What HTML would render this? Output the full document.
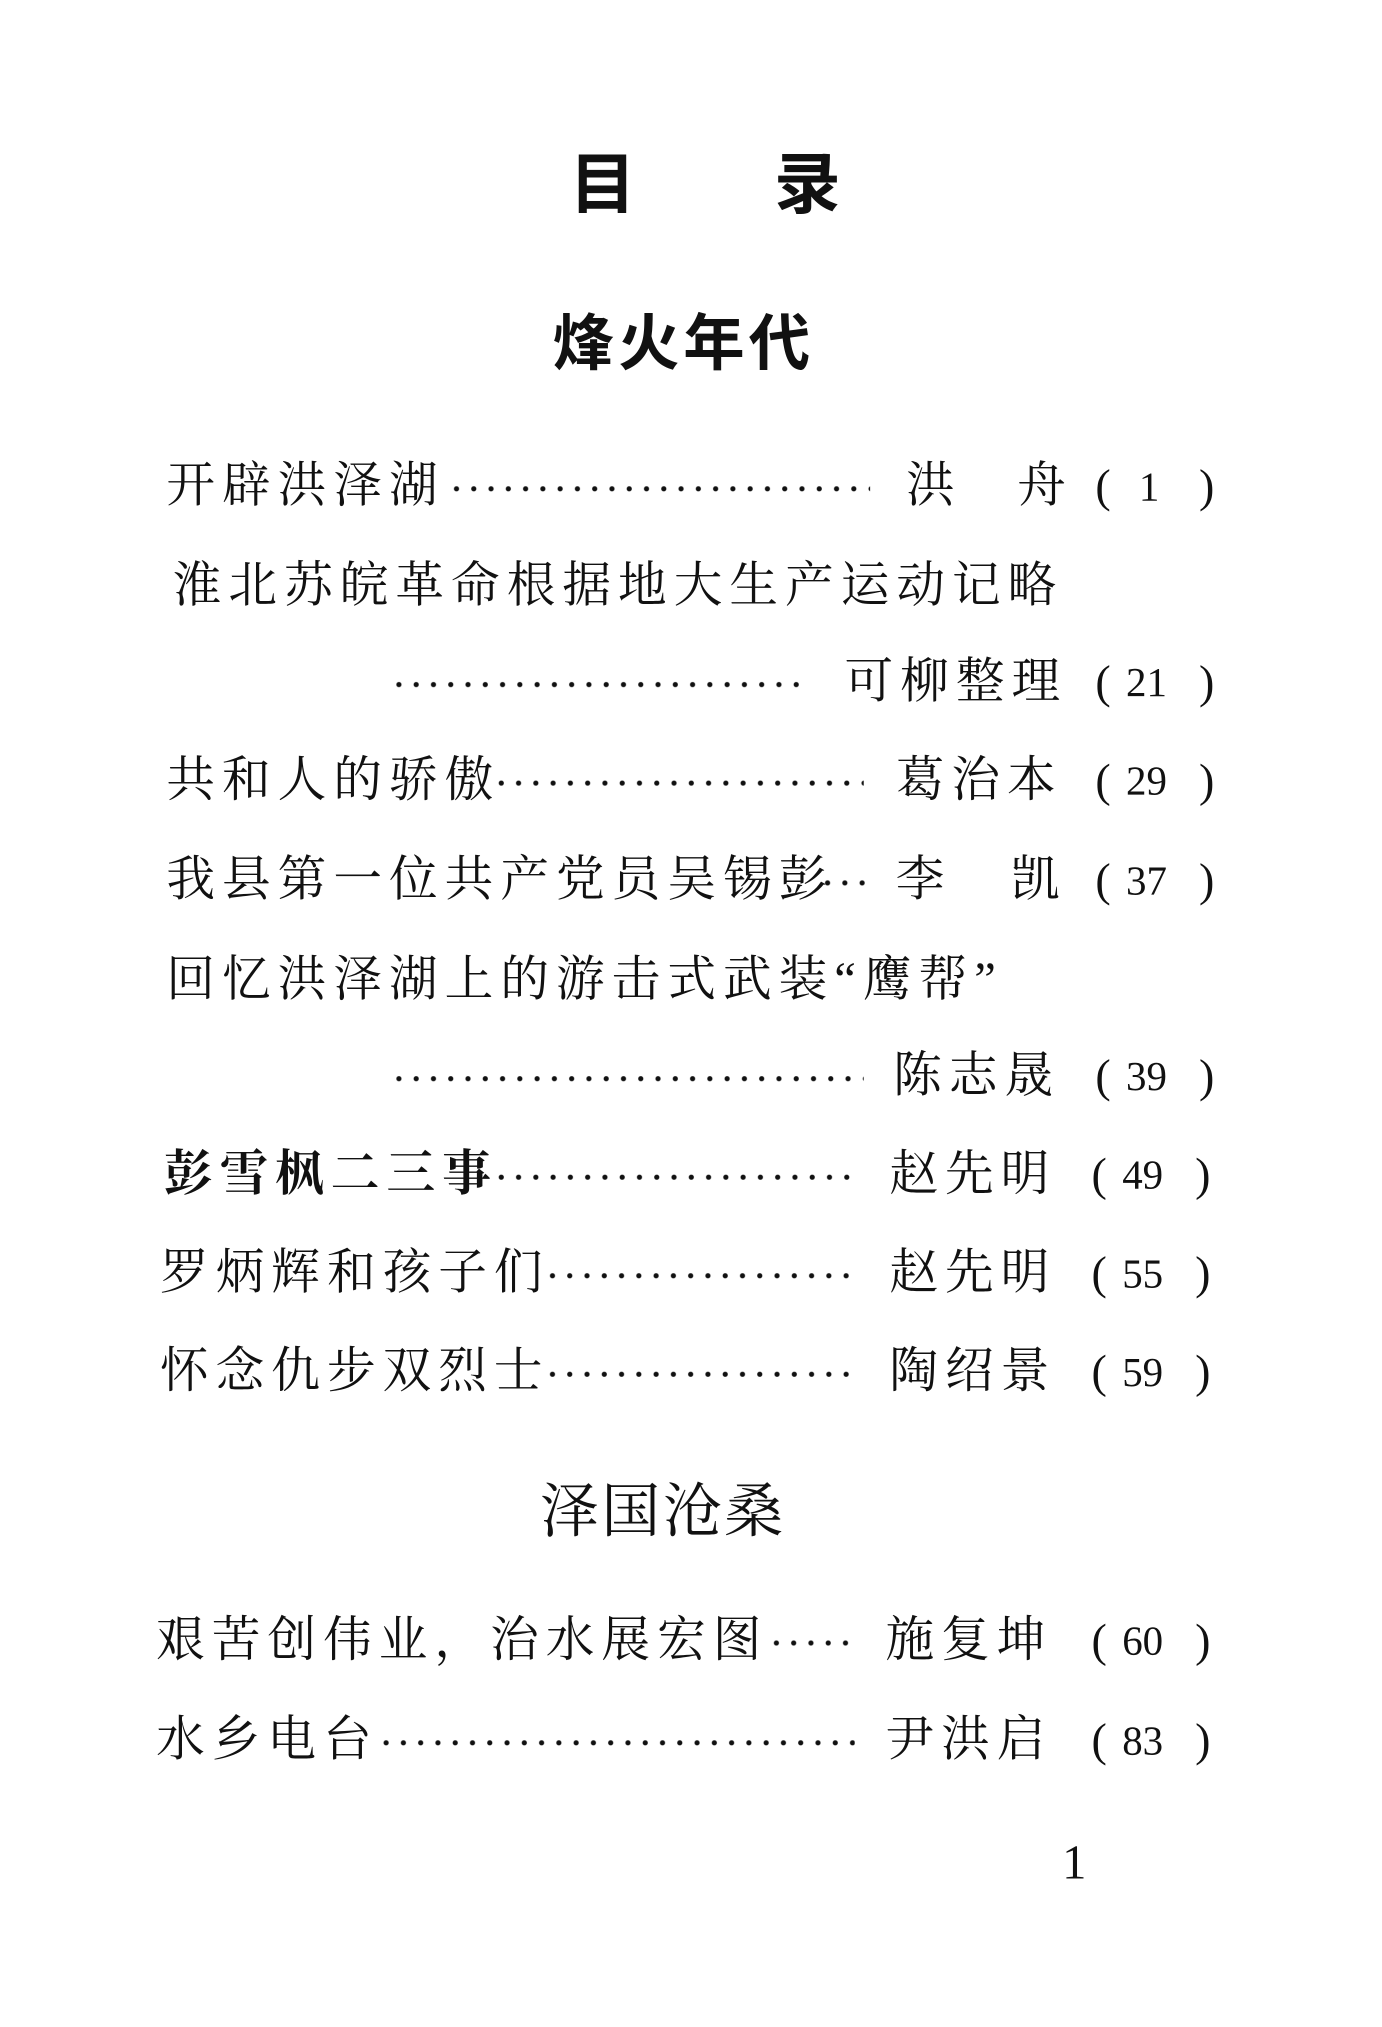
<!DOCTYPE html>
<html><head><meta charset="utf-8"><style>
html,body{margin:0;padding:0;background:#fff;}
body{width:1382px;height:2027px;overflow:hidden;position:relative;}
#w{position:absolute;left:0;top:0;width:1080px;height:1584px;transform:scale(1.2796);transform-origin:0 0;font-family:"Liberation Serif","Noto Serif CJK SC",serif;color:#111;}
.a{position:absolute;white-space:nowrap;line-height:1;}
.t{font-size:38px;letter-spacing:5.5px;}
.d{position:absolute;height:8px;background:radial-gradient(circle,#111 1.7px,transparent 2.3px) 0 0/13.5px 8px repeat-x;}
.n{font-family:"Liberation Serif",serif;font-size:32px;}
.p{font-size:36px;font-family:"Liberation Serif","Noto Serif CJK SC",serif;}
</style></head><body><div id="w">
<div class="a" style="left:445px;top:114px;font-size:52px;font-weight:bold;font-family:'Noto Sans CJK SC',sans-serif">目</div>
<div class="a" style="left:605px;top:114px;font-size:52px;font-weight:bold;font-family:'Noto Sans CJK SC',sans-serif">录</div>
<div class="a" style="left:432px;top:240px;font-size:48px;letter-spacing:3px;font-weight:bold;font-family:'Noto Sans CJK SC',sans-serif">烽火年代</div>
<div class="a" style="left:422px;top:1159px;font-size:46px;letter-spacing:2px">泽国沧桑</div>

<div class="a t" style="left:130px;top:361px">开辟洪泽湖</div><div class="d" style="left:350px;top:378px;width:330px"></div>
<div class="a t" style="left:708px;top:361px">洪</div><div class="a t" style="left:795px;top:361px">舟</div>
<div class="a p" style="left:856px;top:362px">(</div><div class="a n" style="left:890px;top:364px">1</div><div class="a p" style="left:937px;top:362px">)</div>

<div class="a t" style="left:135px;top:439px">淮北苏皖革命根据地大生产运动记略</div>

<div class="d" style="left:305px;top:531px;width:320px"></div>
<div class="a t" style="left:660px;top:514px">可柳整理</div>
<div class="a p" style="left:856px;top:515px">(</div><div class="a n" style="left:880px;top:517px">21</div><div class="a p" style="left:937px;top:515px">)</div>

<div class="a t" style="left:130px;top:591px">共和人的骄傲</div><div class="d" style="left:385px;top:608px;width:290px"></div>
<div class="a t" style="left:700px;top:591px">葛治本</div>
<div class="a p" style="left:856px;top:592px">(</div><div class="a n" style="left:880px;top:594px">29</div><div class="a p" style="left:937px;top:592px">)</div>

<div class="a t" style="left:130px;top:669px">我县第一位共产党员吴锡彭</div><div class="d" style="left:640px;top:686px;width:36px"></div>
<div class="a t" style="left:700px;top:669px">李</div><div class="a t" style="left:790px;top:669px">凯</div>
<div class="a p" style="left:856px;top:670px">(</div><div class="a n" style="left:880px;top:672px">37</div><div class="a p" style="left:937px;top:670px">)</div>

<div class="a t" style="left:130px;top:747px">回忆洪泽湖上的游击式武装“鹰帮”</div>

<div class="d" style="left:305px;top:839px;width:370px"></div>
<div class="a t" style="left:698px;top:822px">陈志晟</div>
<div class="a p" style="left:856px;top:823px">(</div><div class="a n" style="left:880px;top:825px">39</div><div class="a p" style="left:937px;top:823px">)</div>

<div class="a t" style="left:128px;top:899px;font-weight:bold">彭雪枫二三事</div><div class="d" style="left:385px;top:916px;width:285px"></div>
<div class="a t" style="left:695px;top:899px">赵先明</div>
<div class="a p" style="left:853px;top:900px">(</div><div class="a n" style="left:877px;top:902px">49</div><div class="a p" style="left:934px;top:900px">)</div>

<div class="a t" style="left:125px;top:976px">罗炳辉和孩子们</div><div class="d" style="left:425px;top:993px;width:245px"></div>
<div class="a t" style="left:695px;top:976px">赵先明</div>
<div class="a p" style="left:853px;top:977px">(</div><div class="a n" style="left:877px;top:979px">55</div><div class="a p" style="left:934px;top:977px">)</div>

<div class="a t" style="left:125px;top:1053px">怀念仇步双烈士</div><div class="d" style="left:425px;top:1070px;width:245px"></div>
<div class="a t" style="left:695px;top:1053px">陶绍景</div>
<div class="a p" style="left:853px;top:1054px">(</div><div class="a n" style="left:877px;top:1056px">59</div><div class="a p" style="left:934px;top:1054px">)</div>

<div class="a t" style="left:122px;top:1263px">艰苦创伟业，治水展宏图</div><div class="d" style="left:600px;top:1280px;width:68px"></div>
<div class="a t" style="left:692px;top:1263px">施复坤</div>
<div class="a p" style="left:853px;top:1264px">(</div><div class="a n" style="left:877px;top:1266px">60</div><div class="a p" style="left:934px;top:1264px">)</div>

<div class="a t" style="left:122px;top:1341px">水乡电台</div><div class="d" style="left:295px;top:1358px;width:373px"></div>
<div class="a t" style="left:692px;top:1341px">尹洪启</div>
<div class="a p" style="left:853px;top:1342px">(</div><div class="a n" style="left:877px;top:1344px">83</div><div class="a p" style="left:934px;top:1342px">)</div>

<div class="a" style="left:830px;top:1437px;font-size:38px;font-family:'Liberation Serif',serif">1</div>
</div></body></html>
